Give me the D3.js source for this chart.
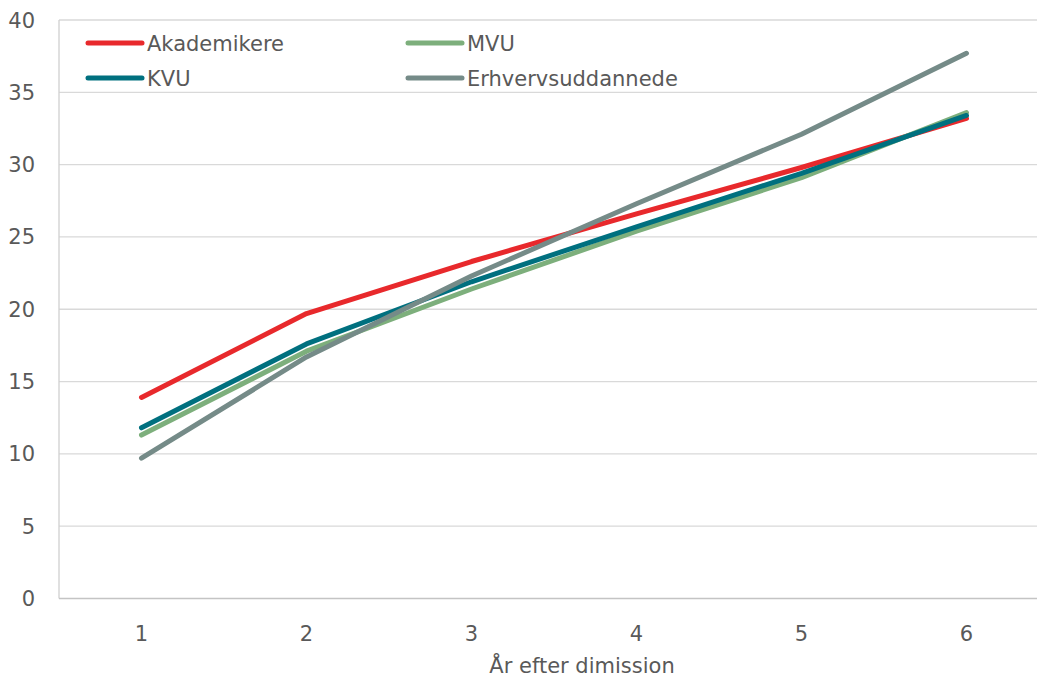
<!DOCTYPE html>
<html><head><meta charset="utf-8">
<script src="https://cdn.jsdelivr.net/npm/d3@7"></script>
<style>body{margin:0;background:#fff}svg{display:block}</style>
</head><body>
<svg id="c" width="1037" height="680"></svg>
<script>
const categories = ["1","2","3","4","5","6"];
const yTicks = [0,5,10,15,20,25,30,35,40];
const seriesNames = ["Akademikere","MVU","KVU","Erhvervsuddannede"];
const akademikere = [13.9, 19.7, 23.3, 26.6, 29.8, 33.2];
const mvu = [11.3, 17.1, 21.4, 25.4, 29.1, 33.6];
const kvu = [11.8, 17.6, 21.9, 25.7, 29.4, 33.4];
const erhverv = [9.7, 16.7, 22.3, 27.3, 32.1, 37.7];
const xTitle = "År efter dimission";

const colors = ["#E8292C","#7DAF7C","#00707F","#758B88"];
const series = [akademikere, mvu, kvu, erhverv];

const svg = d3.select("#c");
const font = "DejaVu Sans, Verdana, sans-serif";
const fs = 21;
const L = 59, R = 1049, T = 20, B = 598.5;
const x = d3.scaleBand().domain(categories).range([L, R]);
const y = d3.scaleLinear().domain([0, 40]).range([B, T]);

// gridlines
svg.append("g").selectAll("line").data(yTicks.filter(d => d > 0)).join("line")
  .attr("x1", L).attr("x2", R).attr("y1", d => y(d)).attr("y2", d => y(d))
  .attr("stroke", "#d9d9d9").attr("stroke-width", 1.3);

// axes lines
svg.append("line").attr("x1", L).attr("x2", L).attr("y1", T).attr("y2", B)
  .attr("stroke", "#d0d0d0").attr("stroke-width", 1.3);
svg.append("line").attr("x1", L).attr("x2", R).attr("y1", B).attr("y2", B)
  .attr("stroke", "#c4c4c4").attr("stroke-width", 1.3);

// y tick labels
svg.append("g").selectAll("text").data(yTicks).join("text")
  .attr("x", 35).attr("y", d => y(d)).attr("dy", "0.36em")
  .attr("text-anchor", "end").attr("font-family", font).attr("font-size", fs)
  .attr("fill", "#595959").text(d => d);

// x tick labels
svg.append("g").selectAll("text").data(categories).join("text")
  .attr("x", d => x(d) + x.bandwidth() / 2).attr("y", 633).attr("dy", "0.36em")
  .attr("text-anchor", "middle").attr("font-family", font).attr("font-size", fs)
  .attr("fill", "#595959").text(d => d);

svg.append("text").attr("x", 582).attr("y", 665).attr("dy", "0.36em")
  .attr("text-anchor", "middle").attr("font-family", font).attr("font-size", fs)
  .attr("fill", "#595959").text(xTitle);

// lines
const line = d3.line().x((d, i) => x(categories[i]) + x.bandwidth() / 2).y(d => y(d));
series.forEach((s, k) => {
  svg.append("path").datum(s).attr("d", line).attr("fill", "none")
    .attr("stroke", colors[k]).attr("stroke-width", 5)
    .attr("stroke-linecap", "round").attr("stroke-linejoin", "round");
});

// legend
const legPos = [[88, 43], [408, 43], [88, 78], [408, 78]];
seriesNames.forEach((n, k) => {
  const [lx, ly] = legPos[k];
  svg.append("line").attr("x1", lx).attr("x2", lx + 54).attr("y1", ly).attr("y2", ly)
    .attr("stroke", colors[k]).attr("stroke-width", 5).attr("stroke-linecap", "round");
  svg.append("text").attr("x", lx + 59).attr("y", ly).attr("dy", "0.36em")
    .attr("font-family", font).attr("font-size", fs).attr("fill", "#595959").text(n);
});
</script>
</body></html>
